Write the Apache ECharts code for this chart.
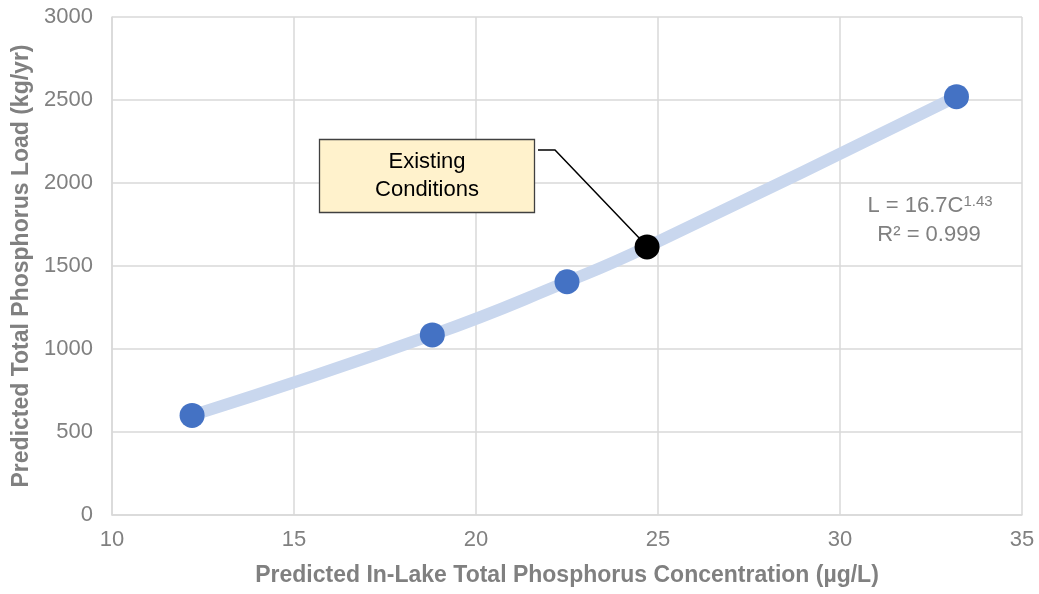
<!DOCTYPE html>
<html><head><meta charset="utf-8">
<script src="https://cdn.jsdelivr.net/npm/echarts@6/dist/echarts.min.js"></script>
<style>html,body{margin:0;padding:0;background:#fff}#c{width:1039px;height:594px}</style>
</head><body><div id="c"></div>
<script>
const scenarioConc = [12.2, 18.8, 22.5, 33.2];
const scenarioLoad = [600, 1085, 1405, 2520];
const existingConc = [24.7];
const existingLoad = [1615];
const trendConc = [12.2, 18.8, 22.5, 24.7, 33.2];
const trendLoad = [600, 1085, 1405, 1615, 2520];
const xTicks = [10, 15, 20, 25, 30, 35];
const yTicks = [0, 500, 1000, 1500, 2000, 2500, 3000];
const xTitle = 'Predicted In-Lake Total Phosphorus Concentration (µg/L)';
const yTitle = 'Predicted Total Phosphorus Load (kg/yr)';
const annoText = 'Existing\nConditions';

const chart = echarts.init(document.getElementById('c'), null, {renderer: 'canvas'});
const F = 'Liberation Sans, Arial, sans-serif';
const grey = '#808080';
chart.setOption({
  animation: false,
  grid: {left: 112, right: 17, top: 17, bottom: 79, containLabel: false, outerBoundsMode: 'none'},
  xAxis: {
    type: 'value', min: xTicks[0], max: xTicks[xTicks.length-1], interval: 5,
    name: xTitle, nameLocation: 'middle', nameGap: 49,
    nameTextStyle: {color: grey, fontFamily: F, fontWeight: 'bold', fontSize: 23},
    axisLine: {show: true, lineStyle: {color: '#d9d9d9', width: 1.5}},
    axisTick: {show: false},
    axisLabel: {color: grey, fontFamily: F, fontSize: 22, margin: 14, formatter: v => String(v)},
    splitLine: {show: true, lineStyle: {color: '#d9d9d9', width: 1.5}}
  },
  yAxis: {
    type: 'value', min: yTicks[0], max: yTicks[yTicks.length-1], interval: 500,
    name: yTitle, nameLocation: 'middle', nameGap: 78, nameRotate: 90,
    nameTextStyle: {color: grey, fontFamily: F, fontWeight: 'bold', fontSize: 23},
    axisLine: {show: true, lineStyle: {color: '#d9d9d9', width: 1.5}},
    axisTick: {show: false},
    axisLabel: {color: grey, fontFamily: F, fontSize: 22, margin: 19, formatter: v => String(v)},
    splitLine: {show: true, lineStyle: {color: '#d9d9d9', width: 1.5}}
  },
  series: [
    {type: 'line', data: trendConc.map((c, i) => [c, trendLoad[i]]), smooth: 0.5,
     symbol: 'none', lineStyle: {color: '#c9d7ee', width: 12, cap: 'round'}, z: 1},
    {type: 'scatter', data: scenarioConc.map((c, i) => [c, scenarioLoad[i]]),
     symbolSize: 25, itemStyle: {color: '#4472c4', opacity: 1}, z: 3},
    {type: 'scatter', data: existingConc.map((c, i) => [c, existingLoad[i]]),
     symbolSize: 25, itemStyle: {color: '#000', opacity: 1}, z: 4}
  ]
});
const pt = chart.convertToPixel({gridIndex: 0}, [existingConc[0], existingLoad[0]]);
chart.setOption({
  graphic: [
    {type: 'polyline', z: 2, shape: {points: [[538, 150], [555, 150], [pt[0] - 6, pt[1] - 7]]},
     style: {stroke: '#000', lineWidth: 1.5, fill: null}},
    {type: 'rect', z: 5, shape: {x: 319.5, y: 139.5, width: 215, height: 73},
     style: {fill: '#fff2cc', stroke: '#404040', lineWidth: 1.3}},
    {type: 'text', z: 6, style: {x: 427, y: 176, text: annoText, align: 'center', verticalAlign: 'middle',
     fill: '#000', font: '22px ' + F, lineHeight: 28}},
    {type: 'text', z: 6, style: {x: 930, y: 206, align: 'center', verticalAlign: 'middle',
     text: '{b|L = 16.7C}{s|1.43}', rich: {
       b: {fill: grey, fontSize: 22, fontFamily: F},
       s: {fill: grey, fontSize: 15, fontFamily: F, verticalAlign: 'top', padding: [0, 0, 8, 0]}}}},
    {type: 'text', z: 6, style: {x: 929, y: 235, align: 'center', verticalAlign: 'middle',
     text: 'R² = 0.999', fill: grey, font: '22px ' + F}}
  ]
});
</script></body></html>
